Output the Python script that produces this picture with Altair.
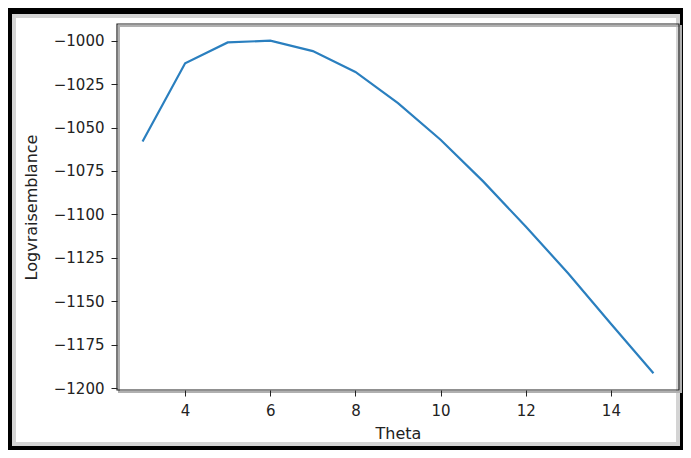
import altair as alt
import pandas as pd

theta = [3, 4, 5, 6, 7, 8, 9, 10, 11, 12, 13, 14, 15]
loglik = [-1058, -1013, -1001, -1000, -1006, -1018, -1036, -1057, -1081, -1107, -1134, -1163, -1191.5]
x_ticks = [4, 6, 8, 10, 12, 14]
y_ticks = [-1200, -1175, -1150, -1125, -1100, -1075, -1050, -1025, -1000]

df = pd.DataFrame({"Theta": theta, "Logvraisemblance": loglik})
one = pd.DataFrame({"a": [0]})

W, H = 562, 366
FONT = "DejaVu Sans"

panel = alt.Chart(one).mark_rect(fill="white", stroke="#d4d4d4", strokeWidth=4).encode(
    x=alt.value(-103), x2=alt.value(561), y=alt.value(-8), y2=alt.value(420)
)

shadow = alt.Chart(one).mark_rect(fillOpacity=0, stroke="#b0b0b0", strokeWidth=2).encode(
    x=alt.value(2), x2=alt.value(W + 2), y=alt.value(2), y2=alt.value(H + 2)
)

line = alt.Chart(df).mark_line(color="#2a7fbf", strokeWidth=2.2).encode(
    x=alt.X(
        "Theta:Q",
        scale=alt.Scale(domain=[2.4, 15.6], nice=False, zero=False),
        axis=alt.Axis(values=x_ticks, title="Theta", format="d", titlePadding=7, zindex=2),
    ),
    y=alt.Y(
        "Logvraisemblance:Q",
        scale=alt.Scale(domain=[-1201.1, -990.4], nice=False, zero=False),
        axis=alt.Axis(values=y_ticks, title="Logvraisemblance", format="d", titlePadding=14, zindex=2),
    ),
)

frame = alt.Chart(one).mark_rect(fillOpacity=0, stroke="#222222", strokeWidth=1.2).encode(
    x=alt.value(0), x2=alt.value(W), y=alt.value(0), y2=alt.value(H)
)

chart = (
    alt.layer(panel, shadow, line, frame)
    .properties(
        width=W,
        height=H,
        padding={"left": 109, "top": 16, "right": 4, "bottom": 60},
        autosize=alt.AutoSizeParams(type="none"),
    )
    .configure(background="black")
    .configure_view(stroke=None)
    .configure_axis(
        grid=False,
        domain=False,
        ticks=True,
        tickColor="#222222",
        tickSize=6,
        tickWidth=1,
        labelFont=FONT,
        labelFontSize=15,
        labelColor="#222222",
        labelPadding=7,
        titleFont=FONT,
        titleFontSize=16,
        titleFontWeight="normal",
        titleColor="#222222",
    )
)

chart.save("out.html", embed_options={"renderer": "svg", "actions": False})
